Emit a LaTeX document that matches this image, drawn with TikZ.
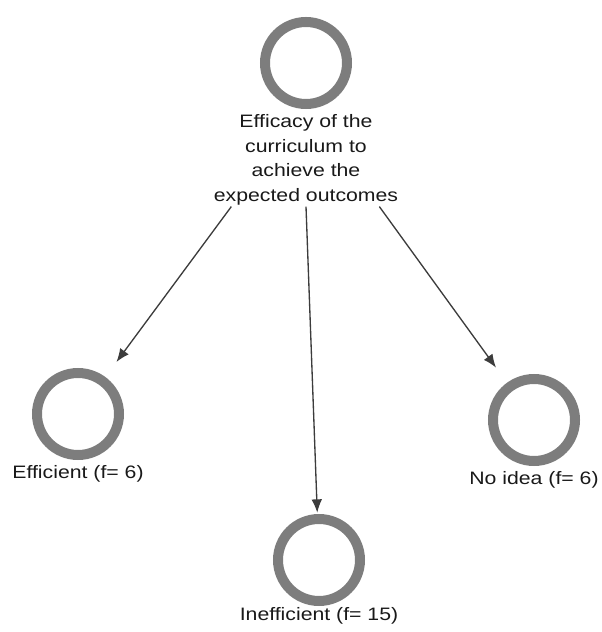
\documentclass[tikz,border=0pt]{standalone}
\usepackage{fontspec}
\setmainfont{Liberation Sans}[FakeStretch=1.18]
\usetikzlibrary{arrows.meta, positioning}

\definecolor{ringgray}{RGB}{125,125,125}
\definecolor{arrowgray}{RGB}{60,60,60}

\begin{document}
\begin{tikzpicture}[x=0.75pt, y=0.75pt, node distance=2pt,
  ring/.style={circle, draw=ringgray, line width=7.5pt, minimum size=61.5pt, inner sep=0pt},
  lbl/.style={font=\fontsize{13.5}{18.4}\selectfont, text=black!90, align=center, inner sep=1pt},
  arr/.style={-{Latex[length=10pt, width=8pt]}, draw=arrowgray, line width=1pt}]
\useasboundingbox (0,0) rectangle (601,632);

\node (topc)[ring] at (306,569) {};
\node (efficacy)[lbl, below=3pt of topc] {Efficacy of the\\curriculum to\\achieve the\\expected outcomes};

\node (effc)[ring] at (78,218) {};
\node (effl)[lbl, below=3pt of effc] {Efficient (f= 6)};

\node (noidc)[ring] at (534,212) {};
\node (noidl)[lbl, below=3pt of noidc] {No idea (f= 6)};

\node (ineffc)[ring] at (319,72) {};
\node (ineffl)[lbl, below=0pt of ineffc] {Inefficient (f= 15)};


\draw[arr, shorten >=14pt] ([xshift=-56pt]efficacy.south) -- (effc);
\draw[arr, shorten >=1pt] (efficacy.south) -- (ineffc);
\draw[arr, shorten >=14pt] ([xshift=55pt]efficacy.south) -- (noidc);

\end{tikzpicture}
\end{document}
